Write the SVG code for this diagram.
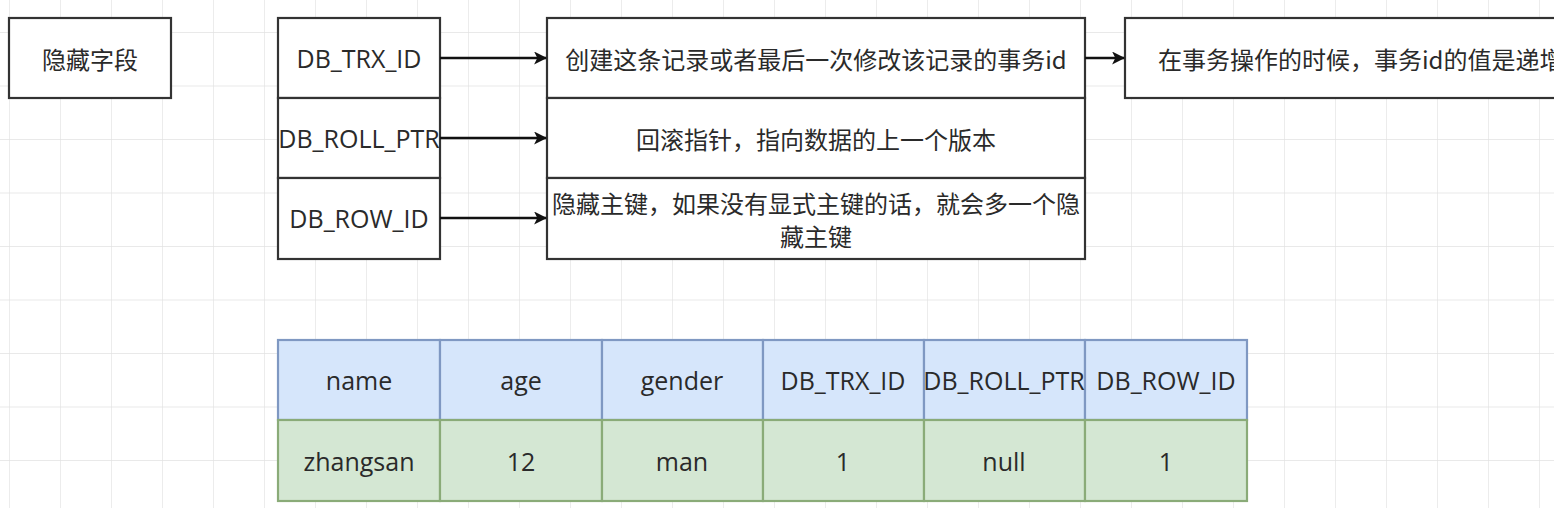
<svg xmlns="http://www.w3.org/2000/svg" width="1554" height="508" viewBox="0 0 1554 508">
  <defs>
    <pattern id="grid" x="9" y="32" width="51" height="53.5" patternUnits="userSpaceOnUse">
      <path d="M0 0 H51 M0 0 V53.5" fill="none" stroke="#e2e2e2" stroke-width="1.3"/>
    </pattern>
    <marker id="arr" viewBox="0 0 12 12" refX="11" refY="6" markerWidth="13" markerHeight="13" markerUnits="userSpaceOnUse" orient="auto">
      <path d="M0 0 L12 6 L0 12 L3 6 Z" fill="#111"/>
    </marker>
    <style>
      .box { fill: #ffffff; stroke: #333333; stroke-width: 2.2; }
      .hd { fill: #d6e6fb; stroke: #7f98c2; stroke-width: 2.2; }
      .dt { fill: #d4e7d3; stroke: #8aab78; stroke-width: 2.2; }
      .t { font-family: "Open Sans", "Noto Sans CJK SC", sans-serif; font-size: 25px; fill: #2a2a2a; text-anchor: middle; dominant-baseline: central; }
      .c { font-family: "Noto Sans CJK SC", sans-serif; font-size: 24px; fill: #2a2a2a; text-anchor: middle; dominant-baseline: central; }
      .con { fill: none; stroke: #111111; stroke-width: 2.4; marker-end: url(#arr); }
    </style>
  </defs>
  <rect x="0" y="0" width="1554" height="508" fill="#ffffff"/>
  <rect x="0" y="0" width="1554" height="508" fill="url(#grid)"/>

  <g id="hidden-fields">
    <rect class="box" x="9" y="18" width="162" height="80"/>
    <text class="c" x="90" y="58">隐藏字段</text>
  </g>

  <g id="db-trx-id">
    <rect class="box" x="278" y="18" width="162" height="80"/>
    <text class="t" x="359" y="58">DB_TRX_ID</text>
  </g>
  <g id="db-roll-ptr">
    <rect class="box" x="278" y="98" width="162" height="80"/>
    <text class="t" x="359" y="138">DB_ROLL_PTR</text>
  </g>
  <g id="db-row-id">
    <rect class="box" x="278" y="178" width="162" height="81"/>
    <text class="t" x="359" y="218">DB_ROW_ID</text>
  </g>

  <g id="desc-trx">
    <rect class="box" x="547" y="18" width="538" height="80"/>
    <text class="c" x="816" y="58">创建这条记录或者最后一次修改该记录的事务id</text>
  </g>
  <g id="desc-roll">
    <rect class="box" x="547" y="98" width="538" height="80"/>
    <text class="c" x="816" y="138">回滚指针，指向数据的上一个版本</text>
  </g>
  <g id="desc-row">
    <rect class="box" x="547" y="178" width="538" height="81"/>
    <text class="c" x="816" y="202">隐藏主键，如果没有显式主键的话，就会多一个隐</text>
    <text class="c" x="816" y="235">藏主键</text>
  </g>

  <g id="note-trx">
    <rect class="box" x="1125" y="18" width="460" height="80"/>
    <text class="c" x="1158" y="58" style="text-anchor:start">在事务操作的时候，事务id的值是递增</text>
  </g>

  <g id="connectors">
    <path class="con" d="M440 58 H546"/>
    <path class="con" d="M440 138 H546"/>
    <path class="con" d="M440 218 H546"/>
    <path class="con" d="M1085 58 H1124"/>
  </g>

  <g id="table-header">
    <rect class="hd" x="278" y="340" width="162" height="80"/>
    <rect class="hd" x="440" y="340" width="162" height="80"/>
    <rect class="hd" x="602" y="340" width="161" height="80"/>
    <rect class="hd" x="763" y="340" width="161" height="80"/>
    <rect class="hd" x="924" y="340" width="161" height="80"/>
    <rect class="hd" x="1085" y="340" width="162" height="80"/>
    <text class="t" x="359" y="380">name</text>
    <text class="t" x="521" y="380">age</text>
    <text class="t" x="682" y="380">gender</text>
    <text class="t" x="843" y="380">DB_TRX_ID</text>
    <text class="t" x="1004" y="380">DB_ROLL_PTR</text>
    <text class="t" x="1166" y="380">DB_ROW_ID</text>
  </g>
  <g id="table-row">
    <rect class="dt" x="278" y="420" width="162" height="81"/>
    <rect class="dt" x="440" y="420" width="162" height="81"/>
    <rect class="dt" x="602" y="420" width="161" height="81"/>
    <rect class="dt" x="763" y="420" width="161" height="81"/>
    <rect class="dt" x="924" y="420" width="161" height="81"/>
    <rect class="dt" x="1085" y="420" width="162" height="81"/>
    <text class="t" x="359" y="461">zhangsan</text>
    <text class="t" x="521" y="461">12</text>
    <text class="t" x="682" y="461">man</text>
    <text class="t" x="843" y="461">1</text>
    <text class="t" x="1004" y="461">null</text>
    <text class="t" x="1166" y="461">1</text>
  </g>
</svg>
